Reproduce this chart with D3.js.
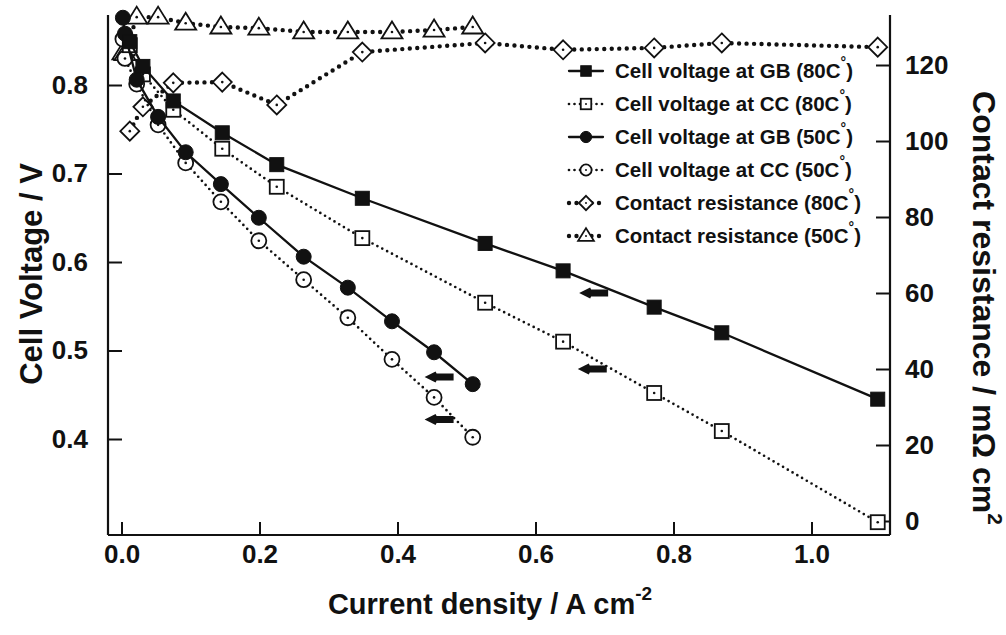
<!DOCTYPE html>
<html>
<head>
<meta charset="utf-8">
<script src="https://cdn.jsdelivr.net/npm/d3@7"></script>
<style>
body { margin: 0; background: #fff; }
text { font-family: "Liberation Sans", Arial, sans-serif; font-weight: bold; fill: #111; }
</style>
</head>
<body>
<script>
// current density values (A cm-2)
var x80 = [0.012, 0.031, 0.075, 0.146, 0.225, 0.349, 0.527, 0.640, 0.772, 0.870, 1.096];
var x50 = [0.002, 0.005, 0.022, 0.053, 0.093, 0.144, 0.199, 0.264, 0.328, 0.392, 0.453, 0.509];
// cell voltages (V)
var gb80 = [0.849, 0.821, 0.782, 0.746, 0.710, 0.672, 0.621, 0.590, 0.549, 0.520, 0.445];
var cc80 = [0.845, 0.812, 0.772, 0.728, 0.685, 0.627, 0.554, 0.510, 0.452, 0.409, 0.306];
var gb50 = [0.876, 0.858, 0.806, 0.764, 0.724, 0.688, 0.650, 0.606, 0.571, 0.533, 0.498, 0.462];
var cc50 = [0.852, 0.830, 0.801, 0.755, 0.712, 0.668, 0.624, 0.580, 0.537, 0.490, 0.447, 0.402];
// contact resistance (mOhm cm2)
var cr80 = [102.6, 109.0, 115.3, 115.5, 109.5, 123.4, 125.8, 124.0, 124.5, 125.8, 124.7];
var cr50 = [123.2, 123.0, 132.6, 132.6, 131.0, 130.0, 129.7, 128.7, 128.7, 128.7, 129.2, 130.0];
// tick labels
var xTicks = [0.0, 0.2, 0.4, 0.6, 0.8, 1.0];
var vTicks = [0.4, 0.5, 0.6, 0.7, 0.8];
var rTicks = [0, 20, 40, 60, 80, 100, 120];
var legendNames = ["Cell voltage at GB (80C", "Cell voltage at CC (80C", "Cell voltage at GB (50C",
  "Cell voltage at CC (50C", "Contact resistance (80C", "Contact resistance (50C"];
// arrows pointing to the left axis (current density, voltage)
var arrowX = [0.685, 0.683, 0.461, 0.461];
var arrowV = [0.565, 0.479, 0.470, 0.422];

var width = 1006, height = 635;
var svg = d3.select("body").append("svg").attr("width", width).attr("height", height);

var x = d3.scaleLinear().domain([-0.0196, 1.1138]).range([108, 890]);
var yV = d3.scaleLinear().domain([0.29153, 0.8791]).range([535, 15]);
var yR = d3.scaleLinear().domain([-3.684, 133.16]).range([535, 15]);

// axes, ticks pointing inward
var gx = svg.append("g").attr("transform", "translate(0,535)")
  .call(d3.axisBottom(x).tickValues(xTicks).tickFormat(d3.format(".1f")).tickSize(-13).tickPadding(10));
var gl = svg.append("g").attr("transform", "translate(108,0)")
  .call(d3.axisLeft(yV).tickValues(vTicks).tickFormat(d3.format(".1f")).tickSize(-14).tickPadding(20));
var gr = svg.append("g").attr("transform", "translate(890,0)")
  .call(d3.axisRight(yR).tickValues(rTicks).tickSize(-14).tickPadding(15));
[gx, gl, gr].forEach(function (g) {
  g.select(".domain").attr("stroke", "#111").attr("stroke-width", 2.2);
  g.selectAll(".tick line").attr("stroke", "#111").attr("stroke-width", 2);
  g.selectAll(".tick text").style("font-size", "26px").attr("fill", "#111");
});
// keep the open frame: remove outer tick stubs of the domain paths
gx.select(".domain").attr("d", "M108,0H890");
gl.select(".domain").attr("d", "M0,535V15");
gr.select(".domain").attr("d", "M0,535V15");

// axis titles
svg.append("text").attr("transform", "translate(42,274) rotate(-90)").attr("text-anchor", "middle")
  .style("font-size", "31px").text("Cell Voltage / V");
var rt = svg.append("text").attr("transform", "translate(973,308) rotate(90)").attr("text-anchor", "middle")
  .style("font-size", "32px");
rt.append("tspan").text("Contact resistance / m\u03A9 cm");
rt.append("tspan").attr("dy", -15).style("font-size", "21px").text("2");
var xt = svg.append("text").attr("x", 490).attr("y", 614).attr("text-anchor", "middle").style("font-size", "29px");
xt.append("tspan").text("Current density / A cm");
xt.append("tspan").attr("dy", -14).style("font-size", "19px").text("-2");

// line styles
var solid = { dash: null, w: 2.3 };
var fine = { dash: "0,5.5", w: 2.7 };
var heavy = { dash: "0,7.5", w: 4.4 };

var series = [
  { xs: x80, ys: gb80, y: yV, sty: solid, mark: "square", fill: true },
  { xs: x80, ys: cc80, y: yV, sty: fine, mark: "square", fill: false },
  { xs: x50, ys: gb50, y: yV, sty: solid, mark: "circle", fill: true },
  { xs: x50, ys: cc50, y: yV, sty: fine, mark: "circle", fill: false },
  { xs: x80, ys: cr80, y: yR, sty: heavy, mark: "diamond", fill: false },
  { xs: x50, ys: cr50, y: yR, sty: heavy, mark: "triangle", fill: false }
];

function drawMarker(g, kind, filled, cx, cy, s) {
  s = s || 1;
  var m;
  if (kind === "square") {
    m = g.append("rect").attr("x", cx - 7 * s).attr("y", cy - 7 * s).attr("width", 14 * s).attr("height", 14 * s);
  } else if (kind === "circle") {
    m = g.append("circle").attr("cx", cx).attr("cy", cy).attr("r", 7.5 * s);
  } else if (kind === "diamond") {
    var d = 9.5 * s;
    m = g.append("path").attr("d", "M" + cx + "," + (cy - d) + "L" + (cx + d) + "," + cy + "L" + cx + "," + (cy + d) + "L" + (cx - d) + "," + cy + "Z");
  } else {
    var h = 10.5 * s;
    m = g.append("path").attr("d", "M" + cx + "," + (cy - h) + "L" + (cx + h) + "," + (cy + 6.5 * s) + "L" + (cx - h) + "," + (cy + 6.5 * s) + "Z");
  }
  m.attr("fill", filled ? "#111" : "#fff").attr("stroke", "#111").attr("stroke-width", filled ? 1 : 1.8);
  if (!filled) g.append("circle").attr("cx", cx).attr("cy", cy).attr("r", 1.3 * s).attr("fill", "#111");
}

var plot = svg.append("g");
// draw back to front: resistance first, then voltages
[4, 5, 3, 1, 2, 0].forEach(function (i) {
  var s = series[i];
  var pts = s.xs.map(function (v, k) { return [x(v), s.y(s.ys[k])]; });
  plot.append("path").attr("d", d3.line()(pts)).attr("fill", "none").attr("stroke", "#111")
    .attr("stroke-width", s.sty.w).attr("stroke-linecap", "round")
    .attr("stroke-dasharray", s.sty.dash);
  pts.forEach(function (p) { drawMarker(plot, s.mark, s.fill, p[0], p[1]); });
});

// arrows
arrowX.forEach(function (v, i) {
  var ax = x(v), ay = yV(arrowV[i]);
  svg.append("path").attr("fill", "#111")
    .attr("d", "M" + (ax - 15) + "," + ay + "L" + (ax - 4) + "," + (ay - 5.5) + "L" + (ax - 3) + "," + (ay - 3.5) +
      "L" + (ax + 14) + "," + (ay - 3.5) + "L" + (ax + 14) + "," + (ay + 3.5) + "L" + (ax - 3) + "," + (ay + 3.5) +
      "L" + (ax - 4) + "," + (ay + 5.5) + "Z");
});

// legend
var leg = svg.append("g");
legendNames.forEach(function (name, i) {
  var s = series[i], ly = 71 + i * 33;
  leg.append("line").attr("x1", 569).attr("x2", 603).attr("y1", ly).attr("y2", ly).attr("stroke", "#111")
    .attr("stroke-width", s.sty.w).attr("stroke-linecap", "round").attr("stroke-dasharray", s.sty.dash);
  drawMarker(leg, s.mark, s.fill, 586, ly, 0.75);
  var t = leg.append("text").attr("x", 615).attr("y", ly + 7).style("font-size", "20.5px");
  t.append("tspan").text(name);
  t.append("tspan").attr("dy", -11).style("font-size", "14px").text("\u00B0");
  t.append("tspan").attr("dy", 11).text(")");
});
</script>
</body>
</html>
